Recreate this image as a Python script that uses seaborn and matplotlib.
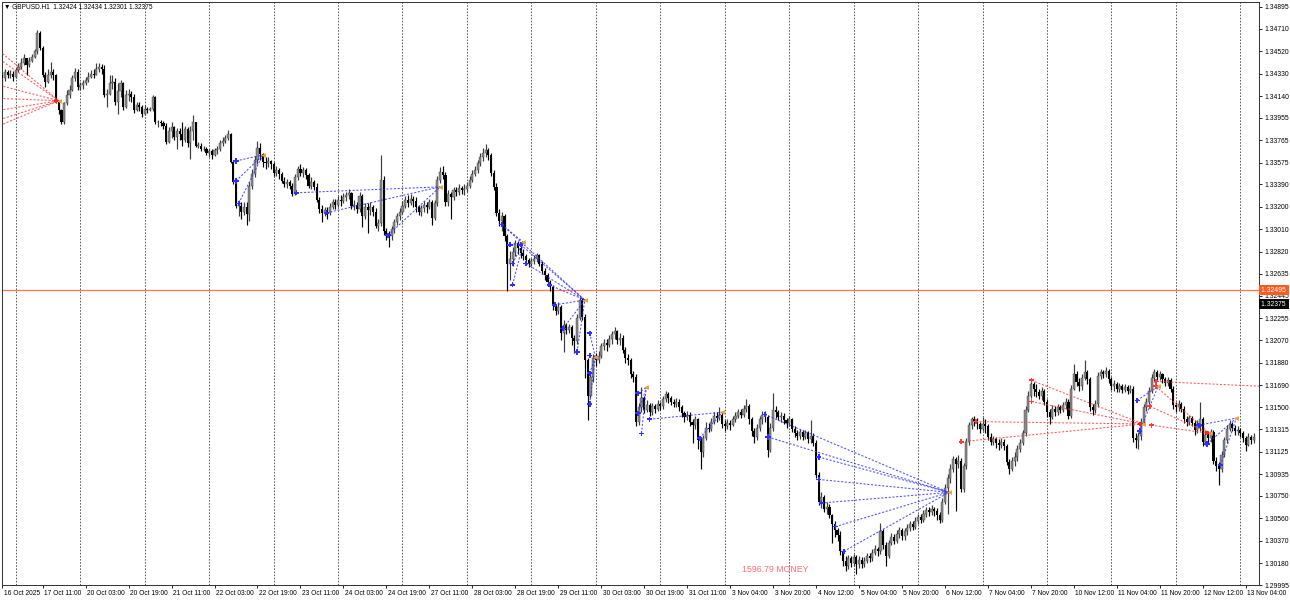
import numpy as np
import pandas as pd
import matplotlib
matplotlib.use("Agg")
import matplotlib.pyplot as plt
import matplotlib.transforms as mtransforms
import seaborn as sns

# ---------------- data (GBPUSD H1) ----------------
first_open = 1.3428
closes = [
    1.3432, 1.3429, 1.3434, 1.3432, 1.3433, 1.3430, 1.3436, 1.3439, 1.3442, 1.3446,
    1.3440, 1.3444, 1.3447, 1.3452, 1.3467, 1.3455, 1.3432, 1.3426, 1.3432, 1.3434,
    1.3432, 1.3409, 1.3402, 1.3392, 1.3408, 1.3415, 1.3419, 1.3429, 1.3434, 1.3422,
    1.3423, 1.3425, 1.3428, 1.3430, 1.3433, 1.3432, 1.3437, 1.3439, 1.3437, 1.3415,
    1.3416, 1.3425, 1.3426, 1.3409, 1.3418, 1.3425, 1.3405, 1.3415, 1.3416, 1.3413,
    1.3402, 1.3406, 1.3405, 1.3399, 1.3403, 1.3402, 1.3403, 1.3413, 1.3392, 1.3392,
    1.3391, 1.3389, 1.3375, 1.3384, 1.3388, 1.3379, 1.3384, 1.3382, 1.3377, 1.3386,
    1.3374, 1.3384, 1.3392, 1.3372, 1.3372, 1.3369, 1.3369, 1.3366, 1.3367, 1.3364,
    1.3368, 1.3369, 1.3374, 1.3376, 1.3378, 1.3382, 1.3358, 1.3341, 1.3321, 1.3321,
    1.3316, 1.3320, 1.3314, 1.3338, 1.3348, 1.3360, 1.3370, 1.3365, 1.3358, 1.3357,
    1.3359, 1.3356, 1.3349, 1.3351, 1.3348, 1.3342, 1.3339, 1.3341, 1.3338, 1.3331,
    1.3345, 1.3352, 1.3349, 1.3351, 1.3347, 1.3338, 1.3341, 1.3337, 1.3326, 1.3318,
    1.3315, 1.3317, 1.3315, 1.3320, 1.3324, 1.3322, 1.3326, 1.3325, 1.3328, 1.3330,
    1.3332, 1.3321, 1.3322, 1.3318, 1.3329, 1.3312, 1.3320, 1.3317, 1.3320, 1.3316,
    1.3304, 1.3306, 1.3343, 1.3300, 1.3297, 1.3295, 1.3301, 1.3307, 1.3312, 1.3316,
    1.3321, 1.3326, 1.3323, 1.3327, 1.3325, 1.3320, 1.3316, 1.3319, 1.3322, 1.3320,
    1.3324, 1.3311, 1.3323, 1.3343, 1.3350, 1.3347, 1.3324, 1.3331, 1.3328, 1.3334,
    1.3333, 1.3336, 1.3334, 1.3335, 1.3338, 1.3343, 1.3348, 1.3351, 1.3357, 1.3362,
    1.3366, 1.3368, 1.3364, 1.3349, 1.3337, 1.3315, 1.3308, 1.3312, 1.3295, 1.3272,
    1.3276, 1.3282, 1.3289, 1.3285, 1.3281, 1.3278, 1.3275, 1.3272, 1.3274, 1.3276,
    1.3279, 1.3272, 1.3266, 1.3262, 1.3256, 1.3252, 1.3236, 1.3232, 1.3235, 1.3213,
    1.3220, 1.3216, 1.3218, 1.3209, 1.3206, 1.3226, 1.3241, 1.3227, 1.3190, 1.3160,
    1.3176, 1.3192, 1.3190, 1.3194, 1.3202, 1.3205, 1.3203, 1.3208, 1.3212, 1.3215,
    1.3207, 1.3209, 1.3199, 1.3192, 1.3190, 1.3178, 1.3176, 1.3138, 1.3150, 1.3158,
    1.3148, 1.3152, 1.3146, 1.3151, 1.3149, 1.3153, 1.3151, 1.3157, 1.3161, 1.3158,
    1.3155, 1.3153, 1.3155, 1.3150, 1.3145, 1.3142, 1.3144, 1.3138, 1.3135, 1.3140,
    1.3122, 1.3112, 1.3124, 1.3133, 1.3132, 1.3138, 1.3143, 1.3141, 1.3144, 1.3136,
    1.3134, 1.3137, 1.3135, 1.3140, 1.3143, 1.3146, 1.3144, 1.3149, 1.3151, 1.3140,
    1.3130, 1.3125, 1.3133, 1.3140, 1.3144, 1.3142, 1.3114, 1.3133, 1.3148, 1.3146,
    1.3142, 1.3143, 1.3139, 1.3137, 1.3140, 1.3132, 1.3128, 1.3126, 1.3129, 1.3125,
    1.3128, 1.3123, 1.3126, 1.3120, 1.3093, 1.3070, 1.3074, 1.3064, 1.3066, 1.3059,
    1.3051, 1.3046, 1.3042, 1.3028, 1.3020, 1.3016, 1.3022, 1.3018, 1.3023, 1.3017,
    1.3021, 1.3017, 1.3020, 1.3024, 1.3022, 1.3027, 1.3030, 1.3028, 1.3045, 1.3033,
    1.3024, 1.3035, 1.3040, 1.3037, 1.3043, 1.3046, 1.3041, 1.3045, 1.3048, 1.3051,
    1.3049, 1.3054, 1.3057, 1.3055, 1.3060, 1.3063, 1.3061, 1.3064, 1.3062, 1.3059,
    1.3055, 1.3070, 1.3082, 1.3090, 1.3098, 1.3106, 1.3102, 1.3105, 1.3081, 1.3100,
    1.3121, 1.3135, 1.3140, 1.3138, 1.3136, 1.3132, 1.3136, 1.3134, 1.3125, 1.3121,
    1.3123, 1.3120, 1.3118, 1.3121, 1.3117, 1.3104, 1.3098, 1.3105, 1.3108, 1.3115,
    1.3120, 1.3128, 1.3148, 1.3160, 1.3170, 1.3166, 1.3163, 1.3160, 1.3164, 1.3155,
    1.3146, 1.3142, 1.3149, 1.3146, 1.3150, 1.3148, 1.3152, 1.3155, 1.3143, 1.3166,
    1.3178, 1.3172, 1.3168, 1.3175, 1.3180, 1.3174, 1.3150, 1.3148, 1.3153, 1.3177,
    1.3180, 1.3178, 1.3181, 1.3174, 1.3168, 1.3170, 1.3166, 1.3168, 1.3165, 1.3167,
    1.3164, 1.3166, 1.3124, 1.3122, 1.3126, 1.3138, 1.3150, 1.3155, 1.3164, 1.3175,
    1.3180, 1.3176, 1.3178, 1.3174, 1.3171, 1.3173, 1.3166, 1.3152, 1.3150, 1.3153,
    1.3149, 1.3140, 1.3138, 1.3141, 1.3137, 1.3131, 1.3136, 1.3140, 1.3121, 1.3127,
    1.3124, 1.3129, 1.3105, 1.3100, 1.3098, 1.3110, 1.3122, 1.3132, 1.3136, 1.3133,
    1.3130, 1.3131, 1.3128, 1.3124, 1.3118, 1.3125, 1.3122, 1.3125,
]
highs = [
    1.3436, 1.3434, 1.3437, 1.3436, 1.3436, 1.3435, 1.3438, 1.3442, 1.3446, 1.3450,
    1.3446, 1.3447, 1.3450, 1.3454, 1.3470, 1.3469, 1.3456, 1.3434, 1.3437, 1.3443,
    1.3437, 1.3433, 1.3411, 1.3403, 1.3409, 1.3419, 1.3423, 1.3432, 1.3438, 1.3437,
    1.3426, 1.3428, 1.3430, 1.3434, 1.3436, 1.3437, 1.3442, 1.3442, 1.3441, 1.3440,
    1.3420, 1.3432, 1.3432, 1.3429, 1.3425, 1.3428, 1.3426, 1.3419, 1.3420, 1.3418,
    1.3416, 1.3409, 1.3409, 1.3406, 1.3406, 1.3405, 1.3405, 1.3415, 1.3414, 1.3394,
    1.3394, 1.3393, 1.3391, 1.3388, 1.3392, 1.3389, 1.3387, 1.3387, 1.3392, 1.3389,
    1.3388, 1.3389, 1.3398, 1.3391, 1.3375, 1.3374, 1.3372, 1.3371, 1.3369, 1.3369,
    1.3370, 1.3372, 1.3377, 1.3379, 1.3381, 1.3385, 1.3383, 1.3360, 1.3343, 1.3326,
    1.3324, 1.3324, 1.3324, 1.3341, 1.3352, 1.3363, 1.3376, 1.3374, 1.3366, 1.3362,
    1.3362, 1.3360, 1.3358, 1.3355, 1.3353, 1.3350, 1.3345, 1.3344, 1.3343, 1.3340,
    1.3348, 1.3355, 1.3356, 1.3354, 1.3353, 1.3349, 1.3345, 1.3343, 1.3340, 1.3328,
    1.3322, 1.3320, 1.3320, 1.3323, 1.3327, 1.3327, 1.3329, 1.3330, 1.3332, 1.3333,
    1.3335, 1.3333, 1.3326, 1.3324, 1.3333, 1.3331, 1.3323, 1.3323, 1.3324, 1.3322,
    1.3319, 1.3310, 1.3364, 1.3346, 1.3302, 1.3300, 1.3304, 1.3310, 1.3315, 1.3319,
    1.3325, 1.3329, 1.3330, 1.3331, 1.3329, 1.3328, 1.3322, 1.3322, 1.3325, 1.3324,
    1.3327, 1.3326, 1.3326, 1.3346, 1.3354, 1.3355, 1.3350, 1.3334, 1.3333, 1.3337,
    1.3337, 1.3339, 1.3338, 1.3339, 1.3341, 1.3346, 1.3351, 1.3355, 1.3360, 1.3366,
    1.3370, 1.3373, 1.3370, 1.3366, 1.3351, 1.3340, 1.3318, 1.3316, 1.3314, 1.3297,
    1.3283, 1.3286, 1.3292, 1.3291, 1.3287, 1.3284, 1.3280, 1.3277, 1.3277, 1.3279,
    1.3281, 1.3280, 1.3274, 1.3268, 1.3264, 1.3258, 1.3254, 1.3238, 1.3239, 1.3237,
    1.3224, 1.3222, 1.3221, 1.3220, 1.3211, 1.3229, 1.3244, 1.3243, 1.3229, 1.3192,
    1.3179, 1.3195, 1.3196, 1.3198, 1.3205, 1.3208, 1.3208, 1.3211, 1.3215, 1.3218,
    1.3216, 1.3213, 1.3211, 1.3201, 1.3195, 1.3192, 1.3181, 1.3178, 1.3154, 1.3167,
    1.3160, 1.3156, 1.3154, 1.3154, 1.3153, 1.3156, 1.3155, 1.3160, 1.3164, 1.3163,
    1.3160, 1.3157, 1.3158, 1.3157, 1.3152, 1.3147, 1.3147, 1.3146, 1.3140, 1.3143,
    1.3141, 1.3125, 1.3127, 1.3138, 1.3137, 1.3141, 1.3146, 1.3146, 1.3150, 1.3146,
    1.3139, 1.3140, 1.3139, 1.3143, 1.3146, 1.3149, 1.3149, 1.3152, 1.3157, 1.3153,
    1.3142, 1.3133, 1.3136, 1.3143, 1.3147, 1.3147, 1.3144, 1.3137, 1.3162, 1.3151,
    1.3148, 1.3146, 1.3145, 1.3141, 1.3143, 1.3141, 1.3134, 1.3131, 1.3132, 1.3131,
    1.3131, 1.3130, 1.3139, 1.3128, 1.3122, 1.3095, 1.3078, 1.3076, 1.3070, 1.3068,
    1.3060, 1.3054, 1.3048, 1.3045, 1.3030, 1.3024, 1.3025, 1.3024, 1.3026, 1.3025,
    1.3024, 1.3023, 1.3023, 1.3027, 1.3027, 1.3030, 1.3033, 1.3032, 1.3052, 1.3047,
    1.3036, 1.3038, 1.3044, 1.3043, 1.3046, 1.3049, 1.3048, 1.3048, 1.3051, 1.3054,
    1.3054, 1.3057, 1.3060, 1.3060, 1.3063, 1.3066, 1.3066, 1.3067, 1.3066, 1.3065,
    1.3061, 1.3073, 1.3085, 1.3094, 1.3102, 1.3109, 1.3108, 1.3110, 1.3107, 1.3103,
    1.3124, 1.3138, 1.3142, 1.3143, 1.3141, 1.3138, 1.3142, 1.3140, 1.3136, 1.3128,
    1.3126, 1.3125, 1.3123, 1.3124, 1.3123, 1.3119, 1.3106, 1.3108, 1.3112, 1.3118,
    1.3123, 1.3131, 1.3151, 1.3164, 1.3174, 1.3172, 1.3170, 1.3166, 1.3167, 1.3166,
    1.3157, 1.3149, 1.3152, 1.3151, 1.3153, 1.3152, 1.3155, 1.3158, 1.3157, 1.3169,
    1.3187, 1.3181, 1.3175, 1.3178, 1.3190, 1.3182, 1.3176, 1.3153, 1.3156, 1.3180,
    1.3183, 1.3182, 1.3184, 1.3183, 1.3176, 1.3173, 1.3172, 1.3171, 1.3170, 1.3170,
    1.3169, 1.3169, 1.3168, 1.3128, 1.3129, 1.3141, 1.3153, 1.3158, 1.3167, 1.3178,
    1.3183, 1.3182, 1.3181, 1.3179, 1.3176, 1.3176, 1.3175, 1.3168, 1.3155, 1.3156,
    1.3155, 1.3151, 1.3143, 1.3144, 1.3143, 1.3139, 1.3139, 1.3155, 1.3142, 1.3131,
    1.3130, 1.3132, 1.3131, 1.3108, 1.3104, 1.3113, 1.3125, 1.3135, 1.3139, 1.3138,
    1.3135, 1.3134, 1.3133, 1.3130, 1.3126, 1.3128, 1.3127, 1.3128,
]
lows = [
    1.3427, 1.3413, 1.3427, 1.3429, 1.3429, 1.3427, 1.3429, 1.3434, 1.3437, 1.3440,
    1.3432, 1.3439, 1.3443, 1.3446, 1.3450, 1.3453, 1.3430, 1.3422, 1.3425, 1.3429,
    1.3428, 1.3408, 1.3399, 1.3390, 1.3390, 1.3406, 1.3412, 1.3418, 1.3427, 1.3419,
    1.3419, 1.3420, 1.3423, 1.3426, 1.3429, 1.3429, 1.3432, 1.3434, 1.3433, 1.3413,
    1.3405, 1.3415, 1.3420, 1.3406, 1.3399, 1.3413, 1.3402, 1.3404, 1.3410, 1.3409,
    1.3400, 1.3401, 1.3401, 1.3396, 1.3398, 1.3400, 1.3401, 1.3401, 1.3390, 1.3388,
    1.3389, 1.3386, 1.3373, 1.3374, 1.3378, 1.3377, 1.3369, 1.3377, 1.3372, 1.3375,
    1.3371, 1.3361, 1.3377, 1.3371, 1.3370, 1.3367, 1.3367, 1.3364, 1.3362, 1.3361,
    1.3363, 1.3365, 1.3367, 1.3372, 1.3374, 1.3377, 1.3357, 1.3339, 1.3319, 1.3312,
    1.3310, 1.3313, 1.3305, 1.3308, 1.3335, 1.3345, 1.3356, 1.3360, 1.3354, 1.3352,
    1.3354, 1.3352, 1.3346, 1.3346, 1.3344, 1.3340, 1.3337, 1.3336, 1.3335, 1.3329,
    1.3330, 1.3343, 1.3346, 1.3345, 1.3344, 1.3336, 1.3335, 1.3334, 1.3324, 1.3315,
    1.3307, 1.3312, 1.3310, 1.3313, 1.3318, 1.3318, 1.3320, 1.3321, 1.3323, 1.3325,
    1.3327, 1.3318, 1.3317, 1.3315, 1.3316, 1.3303, 1.3310, 1.3298, 1.3313, 1.3312,
    1.3302, 1.3300, 1.3304, 1.3296, 1.3292, 1.3286, 1.3292, 1.3298, 1.3305, 1.3309,
    1.3314, 1.3319, 1.3320, 1.3322, 1.3320, 1.3316, 1.3313, 1.3312, 1.3316, 1.3315,
    1.3318, 1.3305, 1.3309, 1.3321, 1.3340, 1.3344, 1.3321, 1.3321, 1.3310, 1.3326,
    1.3329, 1.3330, 1.3331, 1.3330, 1.3333, 1.3336, 1.3341, 1.3346, 1.3349, 1.3355,
    1.3359, 1.3362, 1.3360, 1.3346, 1.3334, 1.3312, 1.3304, 1.3300, 1.3291, 1.3249,
    1.3258, 1.3270, 1.3278, 1.3280, 1.3277, 1.3275, 1.3271, 1.3269, 1.3270, 1.3272,
    1.3273, 1.3270, 1.3263, 1.3258, 1.3253, 1.3249, 1.3233, 1.3228, 1.3229, 1.3207,
    1.3197, 1.3212, 1.3213, 1.3203, 1.3196, 1.3204, 1.3224, 1.3224, 1.3175, 1.3139,
    1.3158, 1.3172, 1.3185, 1.3188, 1.3192, 1.3199, 1.3198, 1.3201, 1.3204, 1.3208,
    1.3204, 1.3203, 1.3196, 1.3188, 1.3186, 1.3175, 1.3172, 1.3134, 1.3135, 1.3146,
    1.3145, 1.3146, 1.3143, 1.3144, 1.3145, 1.3147, 1.3148, 1.3149, 1.3155, 1.3154,
    1.3152, 1.3150, 1.3150, 1.3147, 1.3142, 1.3138, 1.3139, 1.3134, 1.3120, 1.3132,
    1.3115, 1.3098, 1.3108, 1.3122, 1.3129, 1.3130, 1.3136, 1.3138, 1.3139, 1.3133,
    1.3130, 1.3132, 1.3131, 1.3134, 1.3138, 1.3141, 1.3141, 1.3142, 1.3146, 1.3136,
    1.3126, 1.3120, 1.3122, 1.3130, 1.3136, 1.3138, 1.3108, 1.3112, 1.3130, 1.3141,
    1.3139, 1.3138, 1.3136, 1.3133, 1.3134, 1.3129, 1.3125, 1.3122, 1.3123, 1.3122,
    1.3123, 1.3120, 1.3120, 1.3117, 1.3090, 1.3067, 1.3065, 1.3061, 1.3060, 1.3056,
    1.3035, 1.3040, 1.3037, 1.3025, 1.3016, 1.3011, 1.3013, 1.3015, 1.3016, 1.3009,
    1.3014, 1.3014, 1.3015, 1.3018, 1.3019, 1.3020, 1.3025, 1.3024, 1.3026, 1.3030,
    1.3016, 1.3022, 1.3033, 1.3034, 1.3035, 1.3039, 1.3038, 1.3038, 1.3042, 1.3045,
    1.3046, 1.3047, 1.3051, 1.3052, 1.3053, 1.3057, 1.3058, 1.3059, 1.3058, 1.3055,
    1.3052, 1.3053, 1.3068, 1.3060, 1.3086, 1.3095, 1.3062, 1.3099, 1.3078, 1.3078,
    1.3098, 1.3118, 1.3132, 1.3134, 1.3132, 1.3128, 1.3130, 1.3128, 1.3122, 1.3118,
    1.3118, 1.3116, 1.3114, 1.3116, 1.3114, 1.3101, 1.3094, 1.3096, 1.3100, 1.3105,
    1.3112, 1.3118, 1.3126, 1.3146, 1.3158, 1.3160, 1.3159, 1.3157, 1.3156, 1.3152,
    1.3142, 1.3136, 1.3140, 1.3143, 1.3144, 1.3145, 1.3146, 1.3149, 1.3140, 1.3141,
    1.3165, 1.3168, 1.3164, 1.3165, 1.3173, 1.3170, 1.3147, 1.3144, 1.3145, 1.3150,
    1.3174, 1.3175, 1.3176, 1.3171, 1.3165, 1.3164, 1.3163, 1.3163, 1.3162, 1.3163,
    1.3161, 1.3162, 1.3121, 1.3116, 1.3115, 1.3122, 1.3136, 1.3147, 1.3152, 1.3162,
    1.3172, 1.3173, 1.3173, 1.3171, 1.3168, 1.3168, 1.3163, 1.3149, 1.3146, 1.3147,
    1.3146, 1.3137, 1.3134, 1.3135, 1.3134, 1.3127, 1.3128, 1.3130, 1.3117, 1.3118,
    1.3120, 1.3121, 1.3102, 1.3096, 1.3084, 1.3095, 1.3108, 1.3120, 1.3130, 1.3130,
    1.3127, 1.3127, 1.3125, 1.3121, 1.3113, 1.3117, 1.3119, 1.3120,
]

# price-axis labels and time-axis labels (every 16 bars)
y_tick_values = [1.34895, 1.34710, 1.34520, 1.34330, 1.34140, 1.33955, 1.33765,
                 1.33575, 1.33390, 1.33200, 1.33010, 1.32820, 1.32635, 1.32445,
                 1.32255, 1.32070, 1.31880, 1.31690, 1.31500, 1.31315, 1.31125,
                 1.30935, 1.30750, 1.30560, 1.30370, 1.30180, 1.29995]
x_tick_labels = ["16 Oct 2025", "17 Oct 11:00", "20 Oct 03:00", "20 Oct 19:00",
                 "21 Oct 11:00", "22 Oct 03:00", "22 Oct 19:00", "23 Oct 11:00",
                 "24 Oct 03:00", "24 Oct 19:00", "27 Oct 11:00", "28 Oct 03:00",
                 "28 Oct 19:00", "29 Oct 11:00", "30 Oct 03:00", "30 Oct 19:00",
                 "31 Oct 11:00", "3 Nov 04:00", "3 Nov 20:00", "4 Nov 12:00",
                 "5 Nov 04:00", "5 Nov 20:00", "6 Nov 12:00", "7 Nov 04:00",
                 "7 Nov 20:00", "10 Nov 12:00", "11 Nov 04:00", "11 Nov 20:00",
                 "12 Nov 12:00", "13 Nov 04:00"]

# trade history (bar index, price)
trade_side = (["sell"] * 7 + ["buy"] * 3 + ["buy"] * 3 + ["buy"] * 4 + ["buy"] * 7
              + ["buy"] * 4 + ["buy"] * 3 + ["buy"] * 2 + ["buy"] * 7 + ["sell"] * 4
              + ["sell"] + ["sell"] * 3 + ["buy"] * 2 + ["buy"] * 3)
trade_open_bar = [0, 0, 0, 0, 0, 0, 0,
                  88, 88, 89,
                  110.5, 121.7, 144.6,
                  187, 190, 191, 191,
                  187, 194, 196, 204.6, 206.7, 209.8, 215,
                  219.7, 219.7, 219.7, 219.7,
                  237.7, 237.7, 239,
                  242, 260.7,
                  284.9, 286.1, 305, 305, 306, 311.2, 314.3,
                  363.5, 358.1, 384.2, 384.2,
                  430.7,
                  430.5, 428.9, 428.3,
                  423.6, 424.5,
                  446.6, 449.6, 454.6]
trade_open_price = [1.3452, 1.3445, 1.3423, 1.3412, 1.3402, 1.3394, 1.3389,
                    1.3359, 1.3342, 1.3323,
                    1.3332, 1.3315, 1.3296,
                    1.3305, 1.3288, 1.3272, 1.3254,
                    1.3305, 1.3288, 1.3272, 1.3254, 1.3237, 1.3217, 1.3197,
                    1.3213, 1.3194, 1.3179, 1.3153,
                    1.3162, 1.3145, 1.3128,
                    1.3140, 1.3124,
                    1.3144, 1.3125, 1.3108, 1.3089, 1.3069, 1.3049, 1.3028,
                    1.3138, 1.3121, 1.3173, 1.3155,
                    1.3172,
                    1.3168, 1.3135, 1.3151,
                    1.3156, 1.3130,
                    1.3135, 1.3119, 1.3101]
trade_close_bar = ([22] * 7 + [98] * 3 + [164] * 3 + [195] * 4 + [217.9] * 7
                   + [221.8] * 4 + [240.8] * 3 + [269.1] * 2 + [353.5] * 7
                   + [425.8] * 4 + [469.5] + [450.6] * 3 + [431.4] * 2 + [460.5] * 3)
trade_close_price = ([1.3410] * 7 + [1.3364] * 3 + [1.3337] * 3 + [1.3290] * 4
                     + [1.3241] * 7 + [1.3193] * 4 + [1.3167] * 3 + [1.3146] * 2
                     + [1.3078] * 7 + [1.3136] * 4 + [1.3168] + [1.3128] * 3
                     + [1.3168] * 2 + [1.3141] * 3)

level_price = 1.32495
bid_price = 1.32375
header_text = "\u25bc GBPUSD.H1  1.32424 1.32434 1.32301 1.32375"
money_text = "1596.79 MONEY"

# ---------------- figure ----------------
sns.set_theme(style="white")
plt.rcParams["font.family"] = ["Liberation Sans", "DejaVu Sans"]

W, H = 1290, 601
fig = plt.figure(figsize=(W / 100, H / 100), dpi=100)
ax = fig.add_axes([2 / W, 16 / H, (1259 - 2) / W, (599 - 16) / H])

n = len(closes)
opens = [first_open] + closes[:-1]
df = pd.DataFrame({"bar": np.arange(n), "open": opens, "close": closes,
                   "high": highs, "low": lows})
df["high"] = df[["high", "open", "close"]].max(axis=1)
df["low"] = df[["low", "open", "close"]].min(axis=1)
df["bull"] = df["close"] >= df["open"]

x_left, x_right = 0.86, 468.95
ax.set_xlim(x_left, x_right)
ax.set_ylim(1.29995, 1.34937)

# vertical dotted grid every 24 bars
for b in range(6, n, 24):
    ax.axvline(b, color="#5a5a5a", lw=0.7, ls=(0, (1.6, 1.6)), zorder=0.5)

# candles
up = df[df.bull]
dn = df[~df.bull]
ax.vlines(up.bar, up.low, up.high, color="#3c3c3c", lw=0.85, zorder=2)
ax.vlines(dn.bar, dn.low, dn.high, color="#000000", lw=0.85, zorder=2)
min_body = 0.00003
ax.bar(up.bar, np.maximum(up.close - up.open, min_body), bottom=up.open,
       width=0.78, color="#8c8c8c", edgecolor="#3a3a3a", linewidth=0.3, zorder=3)
ax.bar(dn.bar, np.maximum(dn.open - dn.close, min_body), bottom=dn.close,
       width=0.78, color="#000000", linewidth=0, zorder=3)

# level line
ax.axhline(level_price, color="#ff7a45", lw=0.9, zorder=1.5)

# trade lines
trades = pd.DataFrame({"side": trade_side, "ob": trade_open_bar, "op": trade_open_price,
                       "cb": trade_close_bar, "cp": trade_close_price})
trades["seg"] = np.arange(len(trades))
seg_df = pd.concat([
    trades[["seg", "side", "ob", "op"]].rename(columns={"ob": "bar", "op": "price"}),
    trades[["seg", "side", "cb", "cp"]].rename(columns={"cb": "bar", "cp": "price"}),
]).sort_values(["seg", "bar"])
palette = {"buy": "#2f2fff", "sell": "#ff3b3b"}
sns.lineplot(data=seg_df, x="bar", y="price", units="seg", hue="side",
             palette=palette, estimator=None, sort=False, legend=False,
             lw=0.75, alpha=0.85, linestyle=(0, (2.0, 1.6)), ax=ax, zorder=4)

opens_vis = trades[trades.ob >= 1]
sns.scatterplot(data=opens_vis, x="ob", y="op", hue="side", palette=palette,
                marker="P", s=14, linewidth=0, legend=False, ax=ax, zorder=5)
close_vis = trades[trades.cb < n].drop_duplicates(["cb", "cp"])
sns.scatterplot(data=close_vis, x="cb", y="cp", color="#f0a030",
                marker="<", s=12, linewidth=0, legend=False, ax=ax, zorder=5)
sell_close = close_vis[close_vis.side == "sell"]
sns.scatterplot(data=sell_close, x=sell_close.cb - 1.0, y="cp", color="#ff2020",
                marker="P", s=12, linewidth=0, legend=False, ax=ax, zorder=5)

# axes styling
for s in ax.spines.values():
    s.set_visible(True)
    s.set_color("#303030")
    s.set_linewidth(0.7)
ax.set_facecolor("white")
ax.set_xlabel("")
ax.set_ylabel("")

ax.yaxis.tick_right()
ax.set_yticks(y_tick_values)
ax.set_yticklabels([f"{v:.5f}" for v in y_tick_values])
ax.tick_params(axis="y", direction="out", length=2.5, width=0.6, pad=1.5,
               labelsize=4.9, colors="#000000", right=True, left=False)

x_tick_pos = [max(16 * k, x_left) for k in range(len(x_tick_labels))]
ax.set_xticks(x_tick_pos)
ax.set_xticklabels(x_tick_labels)
ax.tick_params(axis="x", direction="out", length=2.5, width=0.6, pad=1.2,
               labelsize=4.8, colors="#000000", bottom=True)
offset = mtransforms.ScaledTranslation(1.5 / 100, 0, fig.dpi_scale_trans)
for lab in ax.get_xticklabels():
    lab.set_horizontalalignment("left")
    lab.set_transform(lab.get_transform() + offset)

# price boxes on the right scale
btrans = mtransforms.blended_transform_factory(ax.transAxes, ax.transData)
ax.text(1.0015, level_price, f"{level_price:.5f} ", transform=btrans, ha="left",
        va="center", fontsize=4.9, color="white", clip_on=False, zorder=10,
        bbox=dict(boxstyle="square,pad=0.22", fc="#ff5a1f", ec="none"))
ax.text(1.0015, bid_price, f"{bid_price:.5f} ", transform=btrans, ha="left",
        va="center", fontsize=4.9, color="white", clip_on=False, zorder=10,
        bbox=dict(boxstyle="square,pad=0.22", fc="#000000", ec="none"))

# header and money label
fig.text(4 / W, 1 - 7.5 / H, header_text, fontsize=4.7, color="#000000",
         ha="left", va="center", family=["Liberation Sans", "DejaVu Sans"])
fig.text(775 / W, 1 - 569 / H, money_text, fontsize=6.3, color="#ff6e6e",
         ha="center", va="center")

fig.savefig("out.png", dpi=100, facecolor="white")
